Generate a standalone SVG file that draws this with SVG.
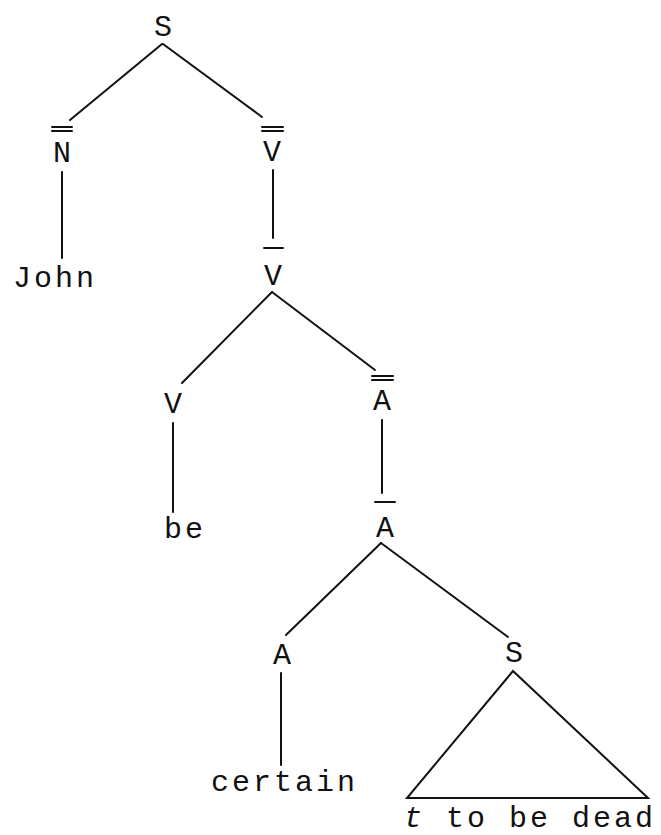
<svg xmlns="http://www.w3.org/2000/svg" width="661" height="835" viewBox="0 0 661 835">
<style>
.t{font-family:"Liberation Mono","DejaVu Sans Mono",monospace;font-size:30px;fill:#111}
.c{text-anchor:middle}
.w{letter-spacing:3px}
line,polygon{stroke:#111;stroke-width:2;fill:none;stroke-linecap:round}
</style>
<rect width="661" height="835" fill="#fff"/>
<g id="connectors">
<line x1="162" y1="44" x2="70" y2="120"/>
<line x1="163" y1="44" x2="262" y2="117"/>
<line x1="62" y1="172" x2="62" y2="258"/>
<line x1="273" y1="170" x2="273" y2="238"/>
<line x1="272" y1="292" x2="182" y2="383"/>
<line x1="272" y1="292" x2="375" y2="370"/>
<line x1="173" y1="423" x2="173" y2="512"/>
<line x1="382" y1="420" x2="382" y2="493"/>
<line x1="381" y1="543" x2="286" y2="635"/>
<line x1="381" y1="543" x2="508" y2="637"/>
<line x1="281" y1="673" x2="281" y2="765"/>
<polygon points="513,671 407,798 648,798"/>
</g>
<g id="n-S"><text class="t c" x="163" y="36">S</text></g>
<g id="n-N2"><line x1="52" y1="127" x2="72" y2="127"/><line x1="52" y1="131" x2="72" y2="131"/><text class="t c" x="62" y="162">N</text></g>
<g id="n-John"><text class="t w" x="13" y="287">John</text></g>
<g id="n-V2"><line x1="262" y1="127" x2="283" y2="127"/><line x1="262" y1="131" x2="283" y2="131"/><text class="t c" x="272" y="161">V</text></g>
<g id="n-V1"><line x1="264" y1="248" x2="283" y2="248"/><text class="t c" x="273" y="285">V</text></g>
<g id="n-V"><text class="t c" x="173" y="413">V</text></g>
<g id="n-be"><text class="t w" x="164" y="538">be</text></g>
<g id="n-A2"><line x1="372" y1="376" x2="393" y2="376"/><line x1="372" y1="380" x2="393" y2="380"/><text class="t c" x="382" y="410">A</text></g>
<g id="n-A1"><line x1="375" y1="502" x2="395" y2="502"/><text class="t c" x="385" y="537">A</text></g>
<g id="n-A"><text class="t c" x="282" y="664">A</text></g>
<g id="n-certain"><text class="t w" x="211" y="791">certain</text></g>
<g id="n-S2"><text class="t c" x="514" y="662">S</text></g>
<g id="n-tobedead"><text class="t w" x="404" y="827"><tspan font-style="italic">t</tspan> to be dead</text></g>
</svg>
